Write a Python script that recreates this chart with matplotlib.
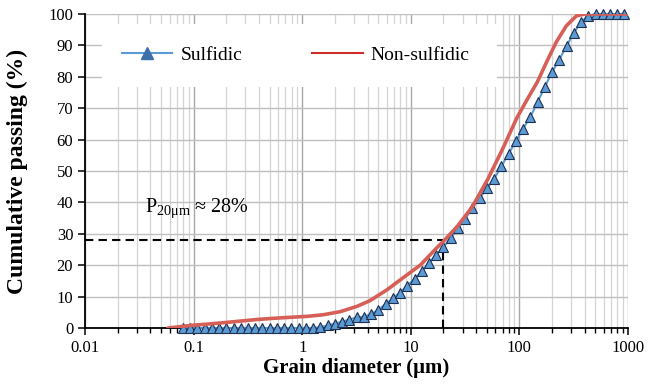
import matplotlib
matplotlib.use("Agg")
import matplotlib.pyplot as plt
from matplotlib.lines import Line2D
from matplotlib.patches import Rectangle
from matplotlib.ticker import LogLocator, NullFormatter, FixedLocator

plt.rcParams['font.family'] = ['Liberation Serif', 'DejaVu Serif']
plt.rcParams['mathtext.fontset'] = 'custom'
plt.rcParams['mathtext.rm'] = 'Liberation Serif'
plt.rcParams['mathtext.it'] = 'Liberation Serif:italic'

# ---- data ----
sulfidic_size = [0.0796, 0.0928, 0.1082, 0.1262, 0.1471, 0.1715, 0.2000, 0.2332, 0.2719, 0.3170,
                 0.3696, 0.4309, 0.5024, 0.5857, 0.6830, 0.7962, 0.9283, 1.082, 1.262, 1.471,
                 1.715, 2.000, 2.332, 2.719, 3.170, 3.696, 4.309, 5.024, 5.857, 6.830,
                 7.962, 9.283, 10.82, 12.62, 14.71, 17.15, 20.00, 23.32, 27.19, 31.70,
                 36.96, 43.09, 50.24, 58.57, 68.30, 79.62, 92.83, 108.2, 126.2, 147.1,
                 171.5, 200.0, 233.2, 271.9, 317.0, 369.6, 430.9, 502.4, 585.7, 683.0,
                 796.2, 928.3]
sulfidic_pass = [0, 0, 0, 0, 0, 0, 0, 0, 0, 0,
                 0, 0, 0, 0, 0, 0, 0, 0, 0, 0.3,
                 0.8, 1.4, 2.0, 2.7, 3.4, 3.6, 4.4, 5.8, 7.6, 9.4,
                 11.3, 13.5, 15.6, 18.1, 20.7, 23.3, 25.8, 28.7, 31.8, 34.8,
                 38.2, 41.4, 44.5, 47.5, 51.5, 55.5, 59.5, 63.5, 67.2, 72.0,
                 76.8, 81.5, 85.5, 89.8, 94.0, 97.4, 99.5, 100, 100, 100,
                 100, 100]

nonsulf_size = [0.058, 0.07, 0.093, 0.13, 0.19, 0.27, 0.38, 0.55, 0.77, 1.1,
                1.55, 2.24, 3.2, 4.2, 6.0, 8.5, 12.3, 17.3, 20.5, 27,
                37, 51, 70, 95, 118, 146, 178, 218, 270, 335,
                400, 1000]
nonsulf_pass = [0, 0.3, 0.8, 1.2, 1.7, 2.2, 2.7, 3.1, 3.4, 3.7,
                4.2, 5.2, 6.9, 8.7, 12.1, 16.0, 20.1, 25.5, 28.0, 32.5,
                38.7, 47.3, 57.0, 67.0, 72.8, 78.3, 84.7, 91.0, 96.2, 99.4,
                100, 100]

series_labels = ["Sulfidic", "Non-sulfidic"]
x_ticks = [0.01, 0.1, 1, 10, 100, 1000]
x_ticklabels = ["0.01", "0.1", "1", "10", "100", "1000"]
y_ticks = [0, 10, 20, 30, 40, 50, 60, 70, 80, 90, 100]
p20_size = 20
p20_pass = 28
annot_text = r"P$_{\mathrm{20μm}}$ ≈ 28%"
xlabel = "Grain diameter (μm)"
ylabel = "Cumulative passing (%)"

# ---- figure ----
fig = plt.figure(figsize=(6.62, 3.84), dpi=100)
ax = fig.add_axes([85/662, 56/384, 543/662, 314/384])
ax.set_xscale('log')
ax.set_xlim(0.01, 1000)
ax.set_ylim(0, 100)

ax.xaxis.set_major_locator(FixedLocator(x_ticks))
ax.set_xticklabels(x_ticklabels)
ax.xaxis.set_minor_locator(LogLocator(base=10, subs=[2, 3, 4, 5, 6, 7, 8, 9], numticks=20))
ax.xaxis.set_minor_formatter(NullFormatter())
ax.set_yticks(y_ticks)

ax.grid(which='major', axis='x', color='#a8a8a8', lw=1.0)
ax.grid(which='minor', axis='x', color='#d4d4d4', lw=0.9)
ax.grid(which='major', axis='y', color='#c0c0c0', lw=1.0)

for s in ['top', 'right']:
    ax.spines[s].set_visible(False)
for s in ['left', 'bottom']:
    ax.spines[s].set_linewidth(1.3)
    ax.spines[s].set_color('black')

ax.tick_params(axis='both', which='major', direction='out', length=5, width=1.1,
               labelsize=12, colors='black')
ax.tick_params(axis='x', which='minor', direction='out', length=3.5, width=1.0)
ax.tick_params(axis='y', which='minor', left=False)

# legend background box
ax.add_patch(Rectangle((0.031, 0.768), 0.728, 0.2, transform=ax.transAxes,
                       facecolor='white', edgecolor='none', zorder=2))

# dashed guide lines
ax.plot([0.01, p20_size], [p20_pass, p20_pass], color='black', lw=1.5,
        ls=(0, (4, 2.5)), zorder=3)
ax.plot([p20_size, p20_size], [0, p20_pass], color='black', lw=1.5,
        ls=(0, (4, 2.5)), zorder=3)

ax.plot(sulfidic_size, sulfidic_pass, color='#5b9bd5', lw=1.5, marker='^',
        markersize=7, markerfacecolor='#5b9bd5', markeredgecolor='#1f2f4f',
        markeredgewidth=0.8, zorder=4, clip_on=False)
ax.plot(nonsulf_size, nonsulf_pass, color='#d65f57', lw=2.6, zorder=5,
        solid_capstyle='round')

ax.text(0.0357, 36.9, annot_text, fontsize=14.5, va='baseline', ha='left', zorder=6)

handles = [Line2D([], [], color='#5b9bd5', lw=1.5, marker='^', markersize=8,
                  markerfacecolor='#3d6fa8', markeredgecolor='#3d6fa8'),
           Line2D([], [], color='#d02c2c', lw=1.5)]
leg = ax.legend(handles, series_labels, loc='center left', bbox_to_anchor=(0.068, 0.869),
                ncol=2, frameon=False, fontsize=14, handlelength=2.6,
                handletextpad=0.4, columnspacing=3.6, borderpad=0, borderaxespad=0)
leg.set_zorder(7)

ax.set_xlabel(xlabel, fontsize=15, fontweight='bold')
ax.set_ylabel(ylabel, fontsize=17, fontweight='bold')
ax.xaxis.set_label_coords(0.5, -0.094)
ax.yaxis.set_label_coords(-0.105, 0.5)

fig.savefig('out.png', dpi=100)
